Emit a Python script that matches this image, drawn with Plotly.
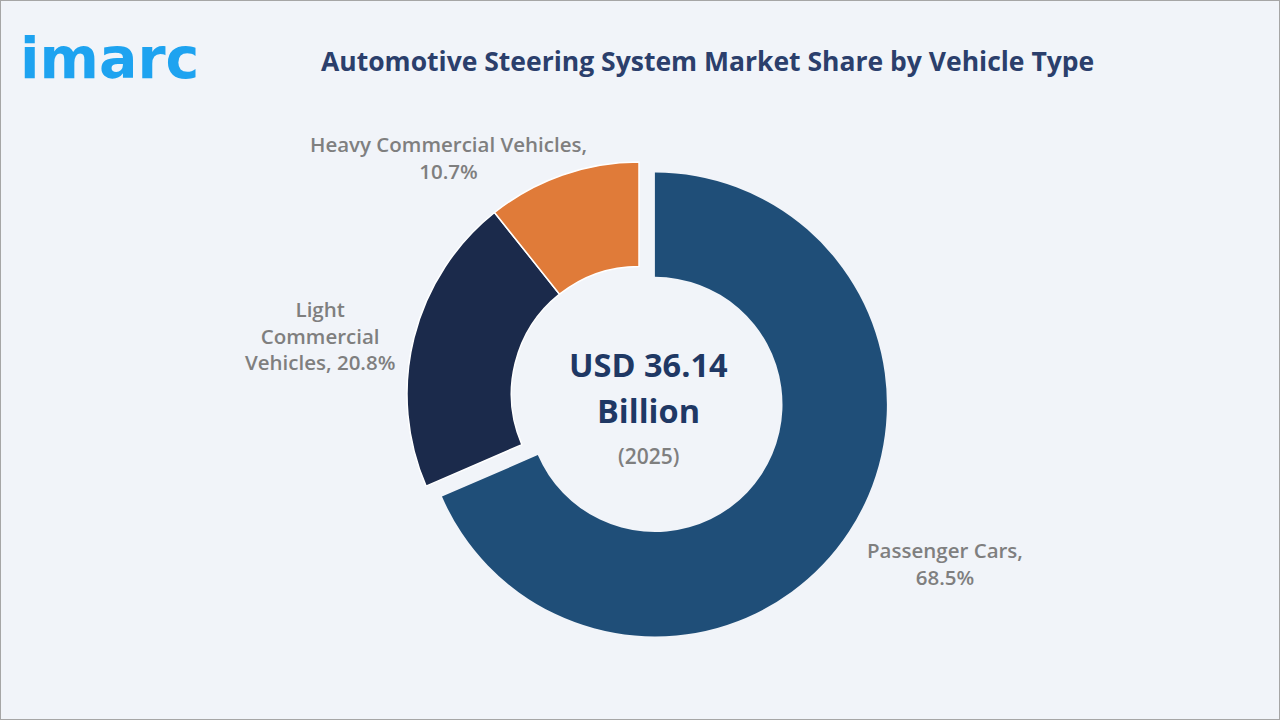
import plotly.graph_objects as go

W, H = 1280, 720

categories = ["Passenger Cars", "Light Commercial Vehicles", "Heavy Commercial Vehicles"]
shares = [68.5, 20.8, 10.7]
colors = ["#1F4E78", "#1B2A4B", "#E07B39"]
label_texts = ["Passenger Cars,<br>%.1f%%" % shares[0],
               "Light<br>Commercial<br>Vehicles, %.1f%%" % shares[1],
               "Heavy Commercial Vehicles,<br>%.1f%%" % shares[2]]
label_pos = [(945, 563), (320, 335), (448, 157)]

center_value = "USD 36.14"
center_unit = "Billion"
center_year = "(2025)"
title_text = "Automotive Steering System Market Share by Vehicle Type"

# pie geometry (pixels)
cx, cy, R, pull = 639, 394, 232, 0.082
half = R * (1 + pull)

fig = go.Figure(go.Pie(
    labels=categories,
    values=shares,
    sort=False,
    direction="clockwise",
    rotation=0,
    hole=0.55,
    pull=[pull, 0, 0],
    marker=dict(colors=colors, line=dict(color=["rgba(0,0,0,0)", "white", "white"], width=[0, 1.5, 1.5])),
    textinfo="none",
    hoverinfo="label+percent",
    showlegend=False,
    domain=dict(x=[(cx - half) / W, (cx + half) / W], y=[1 - (cy + half) / H, 1 - (cy - half) / H]),
))


def add(text, x, y, size, color, family="Open Sans", weight=600, xanchor="center"):
    return dict(text=text, x=x / W, y=1 - y / H, xref="paper", yref="paper", showarrow=False,
                xanchor=xanchor, yanchor="middle",
                font=dict(family=family, size=size, color=color, weight=weight))


ann = []
for t, (x, y) in zip(label_texts, label_pos):
    ann.append(add(t, x, y, 20.5, "#7F7F7F"))

ann.append(add(center_value, 648, 364, 32.5, "#1F3864", weight=700))
ann.append(add(center_unit, 648, 410, 32.5, "#1F3864", weight=700))
ann.append(add(center_year, 648, 456, 21, "#7F7F7F"))

ann.append(add(title_text, 707, 61, 26.5, "#2B3F6C", weight=700))
ann.append(add("imarc", 18, 58, 57, "#1EA3F0", family="DejaVu Sans", weight=700, xanchor="left"))

fig.update_layout(
    width=W, height=H,
    margin=dict(l=0, r=0, t=0, b=0),
    paper_bgcolor="#F1F4F9",
    plot_bgcolor="#F1F4F9",
    annotations=ann,
    shapes=[dict(type="rect", xref="paper", yref="paper", x0=0, y0=0, x1=1, y1=1,
                 line=dict(color="#A6A6A6", width=2))],
)

fig.write_html("out.html")
